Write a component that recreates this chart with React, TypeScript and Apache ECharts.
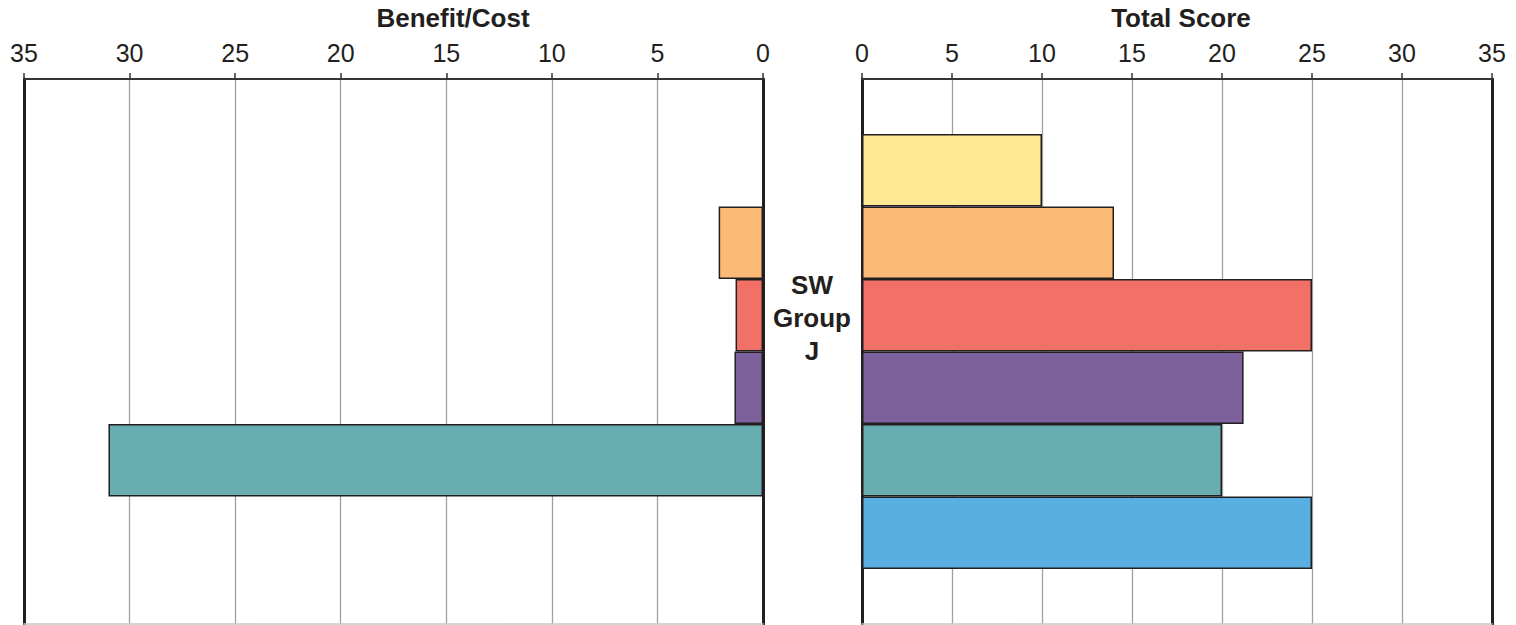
import React, { useEffect, useRef } from "react";
import * as echarts from "echarts";

const categories = ["SW\nGroup\nJ"];
const seriesNames = ["Yellow", "Orange", "Red", "Purple", "Teal", "Blue"];
const colors = ["#FFE994", "#FBBB77", "#F27166", "#7D619D", "#68AEB1", "#59AFE1"];
const benefitCost: (number | null)[] = [null, 2.1, 1.3, 1.35, 31.0, null];
const totalScore: number[] = [10, 14, 25, 21.2, 20, 25];
const ticks = [0, 5, 10, 15, 20, 25, 30, 35];

export default function App() {
  const ref = useRef<HTMLDivElement>(null);
  useEffect(() => {
    if (!ref.current) return;
    const chart = echarts.init(ref.current, null, { renderer: "svg" });
    const font = "Liberation Sans, Arial, sans-serif";
    const grids = [
      { left: 24, right: 753, top: 79, bottom: 1 },
      { left: 862, right: 24, top: 79, bottom: 1 },
    ];
    const xAxisBase = {
      type: "value",
      min: ticks[0],
      max: ticks[ticks.length - 1],
      interval: 5,
      position: "top",
      axisLine: { show: true, onZero: false, lineStyle: { color: "#333", width: 2 } },
      axisTick: { show: true, length: 6, lineStyle: { color: "#333", width: 1.5 } },
      axisLabel: { fontFamily: font, fontSize: 25, color: "#231f20", margin: 14 },
      splitLine: { show: true, lineStyle: { color: "#a0a0a0", width: 1.3 } },
    };
    const bottomLine = (gi: number) => ({
      type: "value",
      gridIndex: gi,
      position: "bottom",
      min: 0,
      max: 35,
      axisLine: { show: true, onZero: false, lineStyle: { color: "#c8c8c8", width: 1.5 } },
      axisTick: { show: false },
      axisLabel: { show: false },
      splitLine: { show: false },
    });
    const yAxisBase = (gi: number, pos: string) => ({
      type: "category",
      gridIndex: gi,
      data: categories,
      position: pos,
      axisLine: { show: true, onZero: false, lineStyle: { color: "#231f20", width: 3 } },
      axisTick: { show: false },
      axisLabel: { show: false },
      splitLine: { show: false },
    });
    const mkSeries = (vals: (number | null)[], xi: number, yi: number) =>
      vals.map((v, i) => ({
        name: seriesNames[i],
        type: "bar",
        xAxisIndex: xi,
        yAxisIndex: yi,
        data: [v === null ? "-" : v],
        barWidth: 72.5,
        barGap: "0%",
        itemStyle: { color: colors[i], borderColor: "#231f20", borderWidth: 1.5 },
      }));
    const titleStyle = { fontFamily: font, fontSize: 26, fontWeight: "bold", color: "#231f20" };
    chart.setOption({
      animation: false,
      backgroundColor: "#ffffff",
      title: [
        { text: "Benefit/Cost", left: 448, top: 0, textAlign: "center", textStyle: titleStyle },
        { text: "Total Score", left: 1176, top: 0, textAlign: "center", textStyle: titleStyle },
      ],
      grid: grids,
      xAxis: [
        { ...xAxisBase, gridIndex: 0, inverse: true },
        { ...xAxisBase, gridIndex: 1 },
        { ...bottomLine(0), inverse: true },
        bottomLine(1),
      ],
      yAxis: [
        yAxisBase(0, "right"),
        yAxisBase(0, "left"),
        yAxisBase(1, "left"),
        yAxisBase(1, "right"),
      ],
      graphic: [
        {
          type: "text",
          x: 812,
          y: 318,
          style: {
            text: categories[0],
            fontFamily: font,
            fontSize: 26,
            fontWeight: "bold",
            fill: "#231f20",
            align: "center",
            verticalAlign: "middle",
            lineHeight: 33,
          },
        },
      ],
      series: [...mkSeries(benefitCost, 0, 0), ...mkSeries(totalScore, 1, 2)],
    });
    return () => chart.dispose();
  }, []);
  return (
    <div
      ref={ref}
      style={{ position: "fixed", left: 0, top: 0, width: 1516, height: 625, background: "#fff" }}
    />
  );
}
